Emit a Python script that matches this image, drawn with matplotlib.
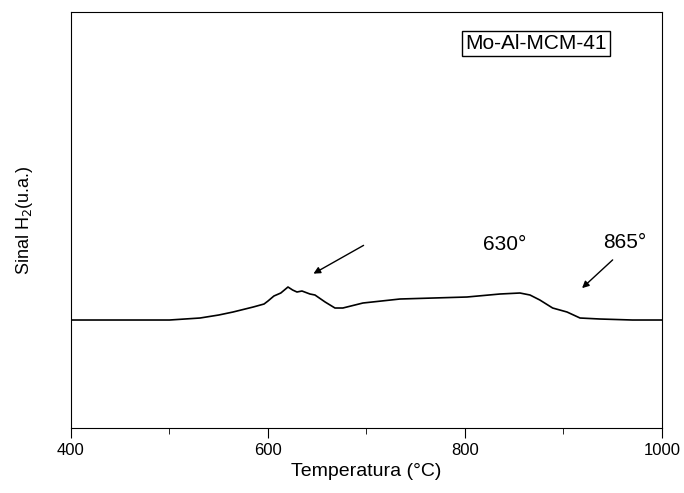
import numpy as np
import matplotlib
matplotlib.use("Agg")
import matplotlib.pyplot as plt
from matplotlib.ticker import MultipleLocator

plt.rcParams["font.family"] = ["Liberation Sans", "DejaVu Sans"]

# TPR do Mo-Al-MCM-41 (unidades arbitrárias)
temperatura = [400, 450, 500, 531, 550, 564.5, 585, 596, 600, 606, 613, 620.3, 625, 629.4,
               634.5, 642.6, 647.7, 658, 668, 676, 696.4, 734, 802, 835.5, 855.8,
               866, 876, 889, 903.6, 916.8, 937, 970, 1000]
sinal = [108, 108, 108, 110, 113, 116, 121, 124, 127, 132, 135, 141, 138, 136,
         137, 134, 133, 126, 120, 120, 125, 129, 131, 134, 135,
         133, 128, 120, 116, 110, 109, 108, 108]

fig = plt.figure(figsize=(6.84, 4.93), dpi=100)
ax = fig.add_axes([0.1038, 0.1318, 0.864, 0.8439])
ax.plot(temperatura, sinal, color="black", lw=1.2)

ax.set_xlim(400, 1000)
ax.set_ylim(0, 416)
ax.xaxis.set_major_locator(MultipleLocator(200))
ax.xaxis.set_minor_locator(MultipleLocator(100))
ax.tick_params(axis="x", which="major", direction="out", length=7, labelsize=12)
ax.tick_params(axis="x", which="minor", direction="out", length=4)
ax.set_yticks([])

ax.set_xlabel("Temperatura (°C)", fontsize=14)
ax.set_ylabel("Sinal H$_2$(u.a.)", fontsize=13, labelpad=26)

ax.annotate("", xy=(643.7, 153), xytext=(699.5, 184),
            arrowprops=dict(arrowstyle="-|>", color="black", lw=1))
ax.annotate("", xy=(916.8, 138), xytext=(952, 170),
            arrowprops=dict(arrowstyle="-|>", color="black", lw=1))
ax.text(840.6, 184, "630°", fontsize=15, ha="center", va="center")
ax.text(962, 186, "865°", fontsize=15, ha="center", va="center")

ax.text(0.787, 0.925, "Mo-Al-MCM-41", transform=ax.transAxes, fontsize=15,
        ha="center", va="center",
        bbox=dict(boxstyle="square,pad=0.15", fc="white", ec="black", lw=1))

fig.savefig("out.png", dpi=100)
